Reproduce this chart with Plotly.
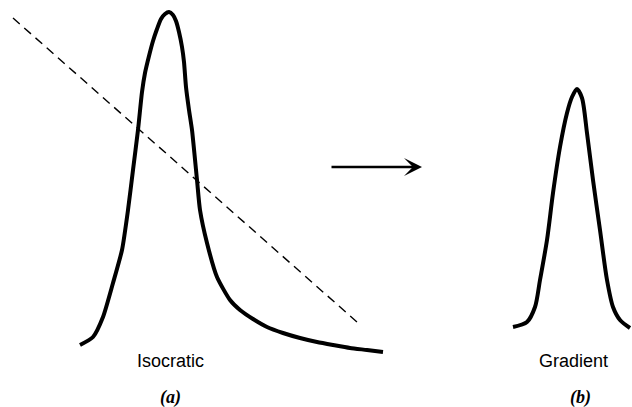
import plotly.graph_objects as go

# Isocratic peak (a): x position, height
iso_x = [80, 93, 103, 113, 122, 128, 133, 138, 142, 145, 149, 153, 157, 161, 165, 169,
         173, 176, 179, 182, 184, 186, 189, 192, 197, 200, 207, 217, 230, 240, 253, 267,
         283, 300, 317, 333, 350, 367, 383]
iso_y = [62, 70, 90, 124, 157, 197, 237, 277, 315, 334, 351, 366, 378, 388, 393, 395,
         392, 386, 375, 360, 345, 320, 297, 277, 227, 197, 164, 130, 107, 97, 88, 80,
         74, 69, 65, 62, 59, 57, 55]

# Gradient peak (b)
grad_x = [513, 527, 535, 540, 547, 553, 560, 567, 572, 577, 582, 587, 593, 600, 607,
          613, 620, 630]
grad_y = [80, 85, 100, 127, 167, 214, 260, 294, 310, 318, 309, 274, 227, 177, 127,
          100, 87, 79]

# Dashed gradient/solvent line
dash_x = [13, 357]
dash_y = [389, 85]

labels = ["Isocratic", "Gradient"]
sublabels = ["(a)", "(b)"]
label_x = [170, 573]
sublabel_x = [170, 580]

fig = go.Figure()
fig.add_trace(go.Scatter(x=dash_x, y=dash_y, mode="lines",
                         line=dict(color="black", width=1.4, dash="9px,6px")))
fig.add_trace(go.Scatter(x=iso_x, y=iso_y, mode="lines",
                         line=dict(color="black", width=4, shape="spline", smoothing=0.6)))
fig.add_trace(go.Scatter(x=grad_x, y=grad_y, mode="lines",
                         line=dict(color="black", width=4, shape="spline", smoothing=0.8)))

fig.add_annotation(x=422, y=240, ax=330, ay=240, xref="x", yref="y", axref="x", ayref="y",
                   showarrow=True, arrowhead=3, arrowsize=1.2, arrowwidth=2.5, arrowcolor="black",
                   text="")

for t, x in zip(labels, label_x):
    fig.add_annotation(x=x, y=46, text=t, showarrow=False,
                       font=dict(family="Liberation Sans, Arial", size=18, color="black"))
for t, x in zip(sublabels, sublabel_x):
    fig.add_annotation(x=x, y=10, text="<b><i>" + t + "</i></b>", showarrow=False,
                       font=dict(family="Liberation Serif, Times New Roman", size=18, color="black"))

fig.update_layout(width=632, height=407, margin=dict(l=0, r=0, t=0, b=0),
                  plot_bgcolor="white", paper_bgcolor="white", showlegend=False)
fig.update_xaxes(range=[0, 632], visible=False)
fig.update_yaxes(range=[0, 407], visible=False)
fig.write_html("out.html", config={"displayModeBar": False})

with open("out.html", encoding="utf-8") as f:
    html = f.read()
html = html.replace("<head>", "<head><style>html,body{margin:0;padding:0;overflow:hidden}</style>", 1)
with open("out.html", "w", encoding="utf-8") as f:
    f.write(html)
